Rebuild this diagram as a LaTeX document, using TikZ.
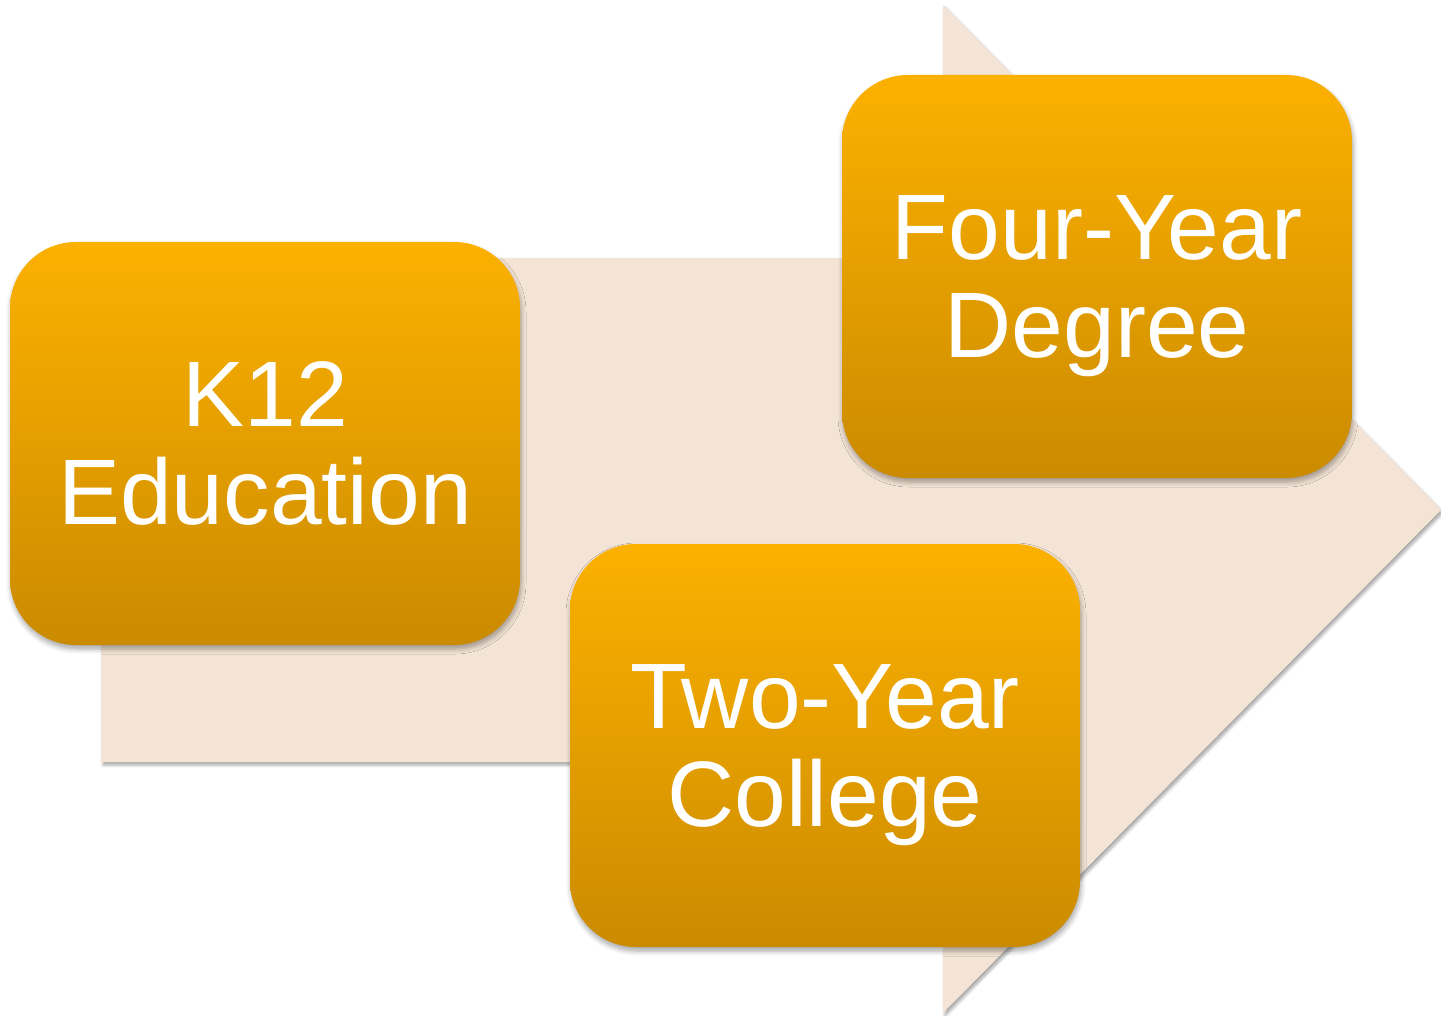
\documentclass[tikz,border=0pt]{standalone}
\usepackage{fontspec}
\setmainfont{Liberation Sans}
\usetikzlibrary{shadows,shadows.blur}
\definecolor{arrowfill}{RGB}{244,228,214}
\definecolor{boxtop}{RGB}{252,177,0}
\definecolor{boxbot}{RGB}{203,139,0}
\tikzset{
  stagebox/.style={rectangle, rounded corners=66pt, minimum width=510pt, minimum height=403pt,
    top color=boxtop, bottom color=boxbot, draw=none, text=white, align=center,
    text depth=0pt,
    font=\fontsize{93}{98}\selectfont,
    blur shadow={shadow xshift=1pt, shadow yshift=-4pt, shadow blur steps=6, shadow opacity=35, shadow blur radius=5pt}},
  bigarrow/.style={fill=arrowfill, draw=none,
    blur shadow={shadow xshift=2pt, shadow yshift=-3pt, shadow blur steps=5, shadow opacity=35, shadow blur radius=3pt}}
}
\begin{document}
\begin{tikzpicture}[x=1pt,y=1pt]
\useasboundingbox (0,0) rectangle (1441,-1016);
% background arrow
\path[bigarrow] (101,-258) -- (943,-258) -- (943,-5) -- (1441,-510) -- (943,-1013) -- (943,-762) -- (101,-762) -- cycle;
% stage boxes
\node[stagebox] (k12) at (265,-443.5) {K12\\Education};
\node[stagebox] (four) at (1097,-276.5) {Four-Year\\Degree};
\node[stagebox] (two) at (825,-745.5) {Two-Year\\College};
\end{tikzpicture}
\end{document}
